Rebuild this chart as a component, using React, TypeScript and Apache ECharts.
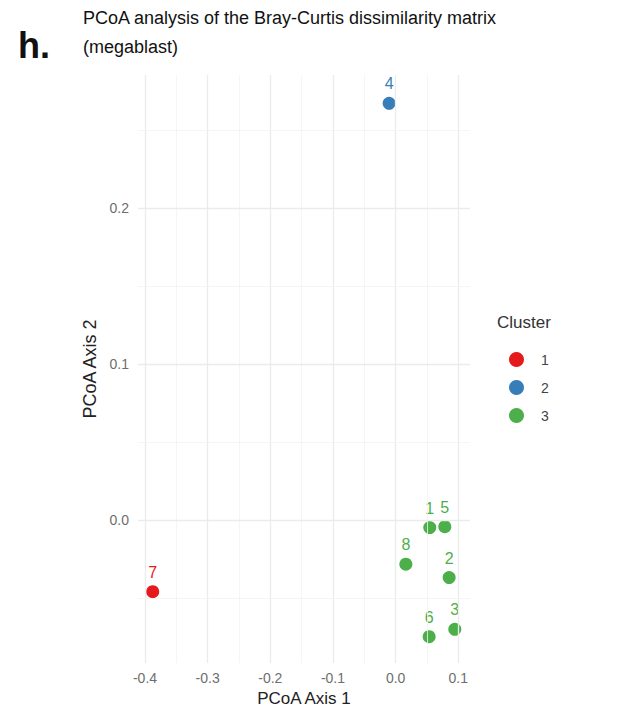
import React, { useEffect, useRef } from "react";
import * as echarts from "echarts";

const sampleIds = ["1", "2", "3", "4", "5", "6", "7", "8"];
const pcoaAxis1 = [0.0545, 0.0854, 0.0944, -0.0104, 0.0785, 0.0535, -0.3877, 0.0163];
const pcoaAxis2 = [-0.0049, -0.037, -0.0702, 0.2674, -0.0043, -0.0749, -0.046, -0.0284];
const sampleCluster = ["3", "3", "3", "2", "3", "3", "1", "3"];

const clusters = ["1", "2", "3"];
const clusterColors = ["#E41A1C", "#377EB8", "#4DAF4A"];

const xMajorTicks = [-0.4, -0.3, -0.2, -0.1, 0.0, 0.1];
const xMinorTicks = [-0.35, -0.25, -0.15, -0.05, 0.05];
const yMajorTicks = [0.0, 0.1, 0.2];
const yMinorTicks = [-0.05, 0.05, 0.15, 0.25];

const titleLines = ["PCoA analysis of the Bray-Curtis dissimilarity matrix", "(megablast)"];
const panelLabel = "h.";

export default function App() {
  const ref = useRef<HTMLDivElement>(null);

  useEffect(() => {
    if (!ref.current) return;
    const chart = echarts.init(ref.current, undefined, { renderer: "svg" });

    const gridMarks = [
      ...xMinorTicks.map((v) => ({ xAxis: v, lineStyle: { color: "#f2f2f2", width: 0.8, type: "solid" } })),
      ...xMajorTicks.map((v) => ({ xAxis: v, lineStyle: { color: "#ebebeb", width: 1.3, type: "solid" } })),
      ...yMinorTicks.map((v) => ({ yAxis: v, lineStyle: { color: "#f2f2f2", width: 0.8, type: "solid" } })),
      ...yMajorTicks.map((v) => ({ yAxis: v, lineStyle: { color: "#ebebeb", width: 1.3, type: "solid" } })),
    ];

    const pointSeries = clusters.map((c, ci) => ({
      type: "scatter",
      name: c,
      z: 3,
      symbol: "circle",
      symbolSize: 13,
      itemStyle: { color: clusterColors[ci], opacity: 1 },
      label: {
        show: true,
        position: "top",
        distance: 5,
        formatter: (p: any) => p.name,
        color: clusterColors[ci],
        fontSize: 16,
        fontFamily: "Liberation Sans, Arial, sans-serif",
      },
      data: sampleIds
        .map((id, i) => ({ id, i }))
        .filter((d) => sampleCluster[d.i] === c)
        .map((d) => ({ name: d.id, value: [pcoaAxis1[d.i], pcoaAxis2[d.i]] })),
    }));

    const axisFont = "Liberation Sans, Arial, sans-serif";

    chart.setOption({
      animation: false,
      backgroundColor: "#ffffff",
      grid: { left: 138, right: 164, top: 75, bottom: 44, outerBoundsMode: "none", containLabel: false },
      xAxis: {
        type: "value",
        min: -0.4112,
        max: 0.1187,
        axisLine: { show: false },
        axisTick: { show: false, customValues: xMajorTicks },
        splitLine: { show: false },
        axisLabel: {
          customValues: xMajorTicks,
          formatter: (v: number) => v.toFixed(1),
          color: "#6e6e6e",
          fontSize: 14,
          margin: 8,
          fontFamily: axisFont,
        },
        name: "PCoA Axis 1",
        nameLocation: "middle",
        nameGap: 25,
        nameTextStyle: { fontSize: 17, lineHeight: 17, color: "#222222", fontFamily: axisFont },
      },
      yAxis: {
        type: "value",
        min: -0.0918,
        max: 0.2856,
        axisLine: { show: false },
        axisTick: { show: false, customValues: yMajorTicks },
        splitLine: { show: false },
        axisLabel: {
          customValues: yMajorTicks,
          formatter: (v: number) => v.toFixed(1),
          color: "#6e6e6e",
          fontSize: 14,
          margin: 9,
          fontFamily: axisFont,
        },
        name: "PCoA Axis 2",
        nameLocation: "middle",
        nameGap: 36,
        nameTextStyle: { fontSize: 18, color: "#222222", fontFamily: axisFont },
      },
      legend: {
        data: clusters,
        orient: "vertical",
        left: 504,
        top: 347,
        icon: "circle",
        itemWidth: 15,
        itemHeight: 15,
        itemGap: 13,
        textStyle: { fontSize: 14, color: "#444444", fontFamily: axisFont, padding: [0, 0, 0, 12] },
        selectedMode: false,
      },
      graphic: [
        {
          type: "text",
          left: 497,
          top: 314,
          style: { text: "Cluster", font: "17px Liberation Sans, Arial, sans-serif", fill: "#333333" },
        },
        {
          type: "text",
          x: 18,
          y: 45,
          style: {
            text: panelLabel,
            font: "bold 36px Liberation Sans, Arial, sans-serif",
            fill: "#111111",
            textVerticalAlign: "middle",
          },
        },
        {
          type: "text",
          x: 83,
          y: 18,
          style: {
            text: titleLines[0],
            font: "18px Liberation Sans, Arial, sans-serif",
            fill: "#111111",
            textVerticalAlign: "middle",
          },
        },
        {
          type: "text",
          x: 83,
          y: 47,
          style: {
            text: titleLines[1],
            font: "18px Liberation Sans, Arial, sans-serif",
            fill: "#111111",
            textVerticalAlign: "middle",
          },
        },
      ],
      series: [
        {
          type: "scatter",
          name: "grid",
          z: 1,
          data: [],
          markLine: {
            silent: true,
            symbol: ["none", "none"],
            label: { show: false },
            emphasis: { disabled: true },
            data: gridMarks,
          },
        },
        ...pointSeries,
      ],
    });

    return () => chart.dispose();
  }, []);

  return <div ref={ref} style={{ position: "fixed", left: 0, top: 0, width: 634, height: 707 }} />;
}
